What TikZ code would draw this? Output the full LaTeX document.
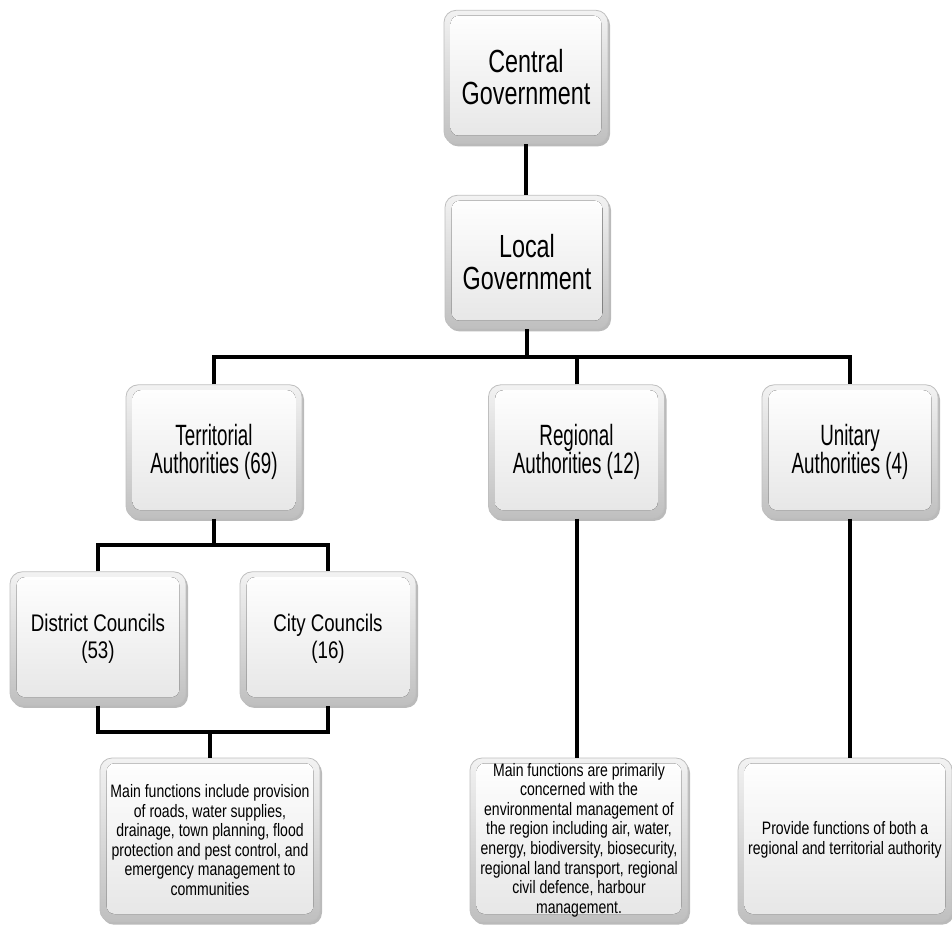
\documentclass[tikz,border=0pt]{standalone}
\usepackage{fontspec}
\setmainfont{Liberation Sans}[FakeStretch=0.7]
\newfontfamily\fbig{Liberation Sans}[FakeStretch=0.73]
\newfontfamily\fmid{Liberation Sans}[FakeStretch=0.64]
\newfontfamily\fsub{Liberation Sans}[FakeStretch=0.78]
\usetikzlibrary{shadows}
\tikzset{
  box/.style={rounded corners=9pt, draw=gray!50, line width=0.6pt,
    top color=gray!10, bottom color=gray!50, align=center, inner sep=0pt,
    drop shadow={shadow xshift=1.5pt, shadow yshift=-2pt, opacity=0.45, fill=black!60},
    path picture={\fill[top color=white, bottom color=gray!20, rounded corners=6pt]
      ([shift={(5pt,-4pt)}]path picture bounding box.north west) rectangle
      ([shift={(-5pt,6pt)}]path picture bounding box.south east);}},
  bigbox/.style={box, minimum width=123pt, minimum height=100pt, font=\fbig\fontsize{24}{24}\selectfont},
  midbox/.style={box, minimum width=132pt, minimum height=100pt, font=\fmid\fontsize{22}{21}\selectfont},
  subbox/.style={box, minimum width=132pt, minimum height=100pt, font=\fsub\fontsize{18}{20}\selectfont},
  txtbox/.style={box, minimum height=123pt, font=\fsub\fontsize{13.5}{14.7}\selectfont},
  conn/.style={line width=3pt, black}
}
\begin{document}
\begin{tikzpicture}[x=0.75pt, y=-0.75pt]
\useasboundingbox (0,0) rectangle (952,926);
\node[bigbox] (cg) at (526,77) {Central\\Government};
\node[bigbox] (lg) at (527,262) {Local\\Government};
\node[midbox] (ta) at (214,451.5) {Territorial\\Authorities (69)};
\node[midbox] (ra) at (576.5,451.5) {Regional\\Authorities (12)};
\node[midbox] (ua) at (850,451.5) {Unitary\\Authorities (4)};
\node[subbox] (dc) at (98,638.5) {District Councils\\(53)};
\node[subbox] (cc) at (328,638.5) {City Councils\\(16)};
\node[txtbox, minimum width=165pt] (f1) at (210,840) {Main functions include provision\\of roads, water supplies,\\drainage, town planning, flood\\protection and pest control, and\\emergency management to\\communities};
\node[txtbox, minimum width=163.5pt] (f2) at (579,840) {Main functions are primarily\\concerned with the\\environmental management of\\the region including air, water,\\energy, biodiversity, biosecurity,\\regional land transport, regional\\civil defence, harbour\\management.};
\node[txtbox, minimum width=160.5pt] (f3) at (845,840) {Provide functions of both a\\regional and territorial authority};
\coordinate (bar1) at (0,357);
\coordinate (bar2) at (0,545);
\coordinate (bar3) at (0,732);
\draw[conn] (cg.south) -- (cg.south |- lg.north);
\draw[conn] (lg.south) -- (lg.south |- bar1);
\draw[conn] (ta.north) -- (ta.north |- bar1) -| (ua.north);
\draw[conn] (ra.north) -- (ra.north |- bar1);
\draw[conn] (ta.south) -- (ta.south |- bar2);
\draw[conn] (dc.north) -- (dc.north |- bar2) -| (cc.north);
\draw[conn] (dc.south) -- (dc.south |- bar3) -| (cc.south);
\draw[conn] (f1.north |- bar3) -- (f1.north);
\draw[conn] (ra.south) -- (ra.south |- f2.north);
\draw[conn] (ua.south) -- (ua.south |- f3.north);
\end{tikzpicture}
\end{document}
